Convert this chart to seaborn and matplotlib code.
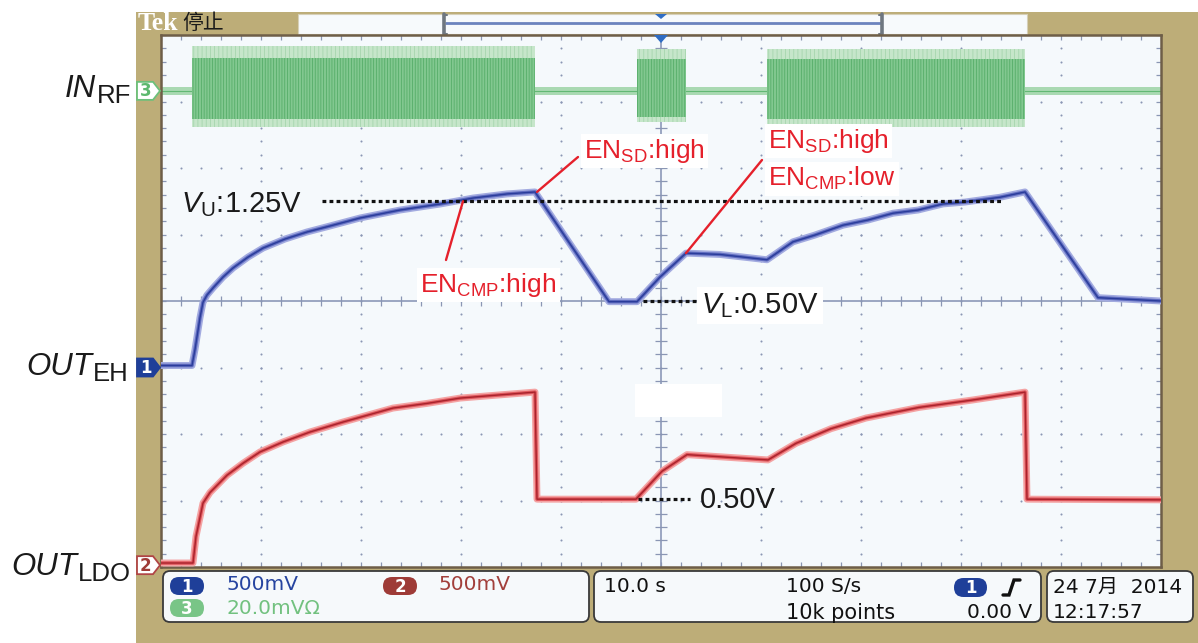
import numpy as np
import pandas as pd
import matplotlib
matplotlib.use("Agg")
import matplotlib.pyplot as plt
import seaborn as sns
from matplotlib.patches import Rectangle, FancyBboxPatch, Polygon

sns.set_theme(style="white")
plt.rcParams['font.family'] = ['Liberation Sans', 'DejaVu Sans', 'Noto Sans CJK SC']
plt.rcParams['mathtext.fontset'] = 'custom'
plt.rcParams['mathtext.rm'] = 'Liberation Sans'
plt.rcParams['mathtext.it'] = 'Liberation Sans:italic'
plt.rcParams['mathtext.bf'] = 'Liberation Sans:bold'
plt.rcParams['hatch.linewidth'] = 0.6

# ---------------- acquisition settings ----------------
CH1_V_PER_DIV = 0.5      # OUT_EH
CH2_V_PER_DIV = 0.5      # OUT_LDO
CH3_MV_PER_DIV = 20.0    # IN_RF
CH1_OFFSET_DIV = 3.0
CH2_OFFSET_DIV = 0.02
CH3_OFFSET_DIV = 7.16

# ---------------- OUT_EH (channel 1) ----------------
eh_time = [0.0, 3.1, 3.4, 3.9, 4.2, 4.6, 5.2, 6.2, 7.2, 8.7, 10.2, 12.4, 14.6, 16.9,
           19.9, 23.9, 27.9, 31.2, 34.6, 37.4, 44.8, 47.6, 49.9, 52.5, 55.9, 60.6,
           63.2, 65.4, 68.2, 70.7, 73.2, 75.7, 78.2, 80.4, 83.9, 86.4, 93.7, 100.0]
eh_volt = [0.015, 0.015, 0.135, 0.375, 0.49, 0.545, 0.598, 0.68, 0.748, 0.83, 0.898,
           0.966, 1.019, 1.064, 1.124, 1.184, 1.229, 1.274, 1.305, 1.32, 0.495, 0.495,
           0.68, 0.86, 0.85, 0.81, 0.945, 0.996, 1.07, 1.109, 1.16, 1.184, 1.23, 1.244,
           1.28, 1.32, 0.525, 0.50]
PEAK_IDX = eh_time.index(37.4)
KNEE_IDX = eh_time.index(52.5)

# ---------------- OUT_LDO (channel 2) ----------------
ldo_time = [0.0, 3.2, 3.5, 4.2, 4.9, 6.6, 8.2, 9.9, 12.2, 14.9, 18.2, 23.2, 26.6,
            29.9, 33.2, 37.4, 37.6, 47.5, 50.1, 52.6, 60.7, 63.5, 67.0, 70.5, 75.8,
            81.1, 86.4, 86.6, 100.0]
ldo_volt = [0.02, 0.02, 0.22, 0.47, 0.55, 0.68, 0.77, 0.855, 0.93, 1.005, 1.08,
            1.185, 1.22, 1.26, 1.28, 1.305, 0.50, 0.50, 0.71, 0.835, 0.795, 0.92,
            1.03, 1.11, 1.19, 1.245, 1.305, 0.50, 0.495]

# ---------------- IN_RF (channel 3) bursts ----------------
rf_start = [3.1, 47.6, 60.6]
rf_end = [37.4, 52.5, 86.4]
rf_upper_mv = [13.5, 12.5, 12.5]
rf_lower_mv = [-11.0, -9.5, -11.0]
rf_core_upper_mv = [10.0, 9.5, 9.5]
rf_core_lower_mv = [-8.5, -8.0, -8.5]
rf_idle_mv = 1.2

# thresholds
V_UPPER = 1.25
V_LOWER = 0.50
V_LDO_LOW = 0.50
T_CMP_HIGH = 30.2

# ---------------- figure / layers ----------------
W, H = 1198, 643
fig = plt.figure(figsize=(W / 100, H / 100), dpi=100)

GL, GR, GT, GB = 161, 1161, 35, 567
bg = fig.add_axes([0, 0, 1, 1])
bg.set_xlim(0, W); bg.set_ylim(H, 0); bg.axis('off'); bg.set_zorder(0)
ax = fig.add_axes([GL / W, (H - GB) / H, (GR - GL) / W, (GB - GT) / H])
ax.set_zorder(1)
fg = fig.add_axes([0, 0, 1, 1])
fg.set_xlim(0, W); fg.set_ylim(H, 0); fg.axis('off'); fg.set_zorder(2)
fg.patch.set_visible(False)
renderer = fig.canvas.get_renderer()

TAN = '#BDAD78'
SCREEN = '#F5F9FC'

def to_px(t, ydiv):
    return GL + t * (GR - GL) / 100.0, GB - ydiv * (GB - GT) / 8.0

# background frame
bg.add_patch(Rectangle((0, 0), W, H, fc='white', ec='none'))
bg.add_patch(Rectangle((136, 12), W - 136, H - 12, fc=TAN, ec='none'))
# top position bar
bg.add_patch(Rectangle((298, 14), 729, 20, fc='#F7FAFC', ec='#D6D0B8', lw=0.8))
bg.plot([445, 881], [23, 23], color='#6C84BE', lw=2.0, solid_capstyle='butt')
for bx, d in [(444, 1), (882, -1)]:
    bg.plot([bx, bx], [14, 34], color='#6F7780', lw=2.6)
    bg.plot([bx, bx + 3 * d], [14.5, 14.5], color='#6F7780', lw=1.5)
    bg.plot([bx, bx + 3 * d], [33.5, 33.5], color='#6F7780', lw=1.5)
bg.add_patch(Polygon([(655, 14), (667, 14), (661, 19)], closed=True, fc='#2F6DC4', ec='none'))
bg.text(138, 23, 'Tek', family='Liberation Serif', weight='bold', fontsize=18.5,
        color='white', ha='left', va='center')
bg.text(182, 23, '停止', family=['Noto Sans CJK SC', 'DejaVu Sans'], fontsize=15,
        color='#1A1A1A', ha='left', va='center')

# status boxes
for x0, w0 in [(163, 426), (594, 447), (1047, 146)]:
    bg.add_patch(FancyBboxPatch((x0, 571), w0, 51, boxstyle='round,pad=0,rounding_size=7',
                                fc='#F6F9FB', ec='#3A3A3A', lw=1.3))

def pill(x, y, w, h, color, label):
    bg.add_patch(FancyBboxPatch((x, y), w, h, boxstyle=f'round,pad=0,rounding_size={h/2}',
                                fc=color, ec='none'))
    bg.text(x + w / 2, y + h / 2 + 0.5, label, family='DejaVu Sans', weight='bold',
            fontsize=12, color='white', ha='center', va='center')

pill(170, 577, 34, 18, '#1F3F99', '1')
pill(383, 577, 34, 18, '#9E3B37', '2')
pill(170, 599, 34, 18, '#79C587', '3')
pill(954, 578, 33, 19, '#1F3F99', '1')

st = dict(family='DejaVu Sans', fontsize=14.5, va='center', ha='left')
bg.text(227, 585, '500mV', color='#2644A0', **st)
bg.text(438, 585, '500mV', color='#A23F3B', **st)
bg.text(227, 608, '20.0mVΩ', color='#72C17F', **st)
bg.text(604, 587, '10.0 s', color='#111111', **st)
bg.text(786, 587, '100 S/s', color='#111111', **st)
bg.text(786, 613, '10k points', color='#111111', family='DejaVu Sans', fontsize=15,
        va='center', ha='left')
bg.text(1032, 613, '0.00 V', color='#111111', family='DejaVu Sans', fontsize=14.5,
        va='center', ha='right')
bg.plot([1003, 1009, 1014, 1020], [595, 595, 580, 580], color='#111111', lw=2.4,
        solid_joinstyle='miter')
bg.text(1053, 587, '24 7月  2014', color='#111111', family=['DejaVu Sans', 'Noto Sans CJK SC'],
        fontsize=14.5, va='center', ha='left')
bg.text(1053, 613, '12:17:57', color='#111111', **st)

# ---------------- graticule ----------------
ax.set_facecolor(SCREEN)
ax.set_xlim(0, 100); ax.set_ylim(0, 8)
ax.set_xticks([]); ax.set_yticks([])
for s in ax.spines.values():
    s.set_color('#6E5E48'); s.set_linewidth(1.8)
GC = '#8A96B4'
minor_y = np.arange(41) * 0.2
minor_x = np.arange(51) * 2.0
for i in range(1, 10):
    if i != 5:
        ax.scatter(np.full(minor_y.size, i * 10.0), minor_y, s=2.2, color=GC, lw=0, zorder=1)
for j in range(1, 8):
    if j != 4:
        ax.scatter(minor_x, np.full(minor_x.size, float(j)), s=2.2, color=GC, lw=0, zorder=1)
ax.axvline(50, color='#8C98B8', lw=1.2, zorder=1)
ax.axhline(4, color='#8C98B8', lw=1.2, zorder=1)
ax.vlines(minor_x, 4 - 0.07, 4 + 0.07, color=GC, lw=0.9, zorder=1)
ax.hlines(minor_y, 50 - 0.6, 50 + 0.6, color=GC, lw=0.9, zorder=1)
ax.vlines(minor_x, 0, 0.08, color=GC, lw=0.9, zorder=1)
ax.vlines(minor_x, 8 - 0.08, 8, color=GC, lw=0.9, zorder=1)
ax.hlines(minor_y, 0, 0.5, color=GC, lw=0.9, zorder=1)
ax.hlines(minor_y, 100 - 0.5, 100, color=GC, lw=0.9, zorder=1)

# ---------------- channel 3: IN_RF ----------------
base3 = CH3_OFFSET_DIV
ax.fill_between([0, 100], base3 - rf_idle_mv / CH3_MV_PER_DIV, base3 + rf_idle_mv / CH3_MV_PER_DIV,
                color='#A9D9B2', lw=0, zorder=2)
ax.plot([0, 100], [base3, base3], color='#62B874', lw=0.8, zorder=2)
for s0, e0, u, l, cu, cl in zip(rf_start, rf_end, rf_upper_mv, rf_lower_mv,
                                rf_core_upper_mv, rf_core_lower_mv):
    ax.fill_between([s0, e0], base3 + l / CH3_MV_PER_DIV, base3 + u / CH3_MV_PER_DIV,
                    facecolor='#C6E6CA', edgecolor='#A6D6AE', hatch='||||', lw=0, zorder=2)
    ax.fill_between([s0, e0], base3 + cl / CH3_MV_PER_DIV, base3 + cu / CH3_MV_PER_DIV,
                    facecolor='#82C890', edgecolor='#56AD69', hatch='||||||', lw=0, zorder=2)

# ---------------- channel 1 and 2 traces ----------------
eh = pd.DataFrame({'t': eh_time, 'div': CH1_OFFSET_DIV + np.array(eh_volt) / CH1_V_PER_DIV})
ldo = pd.DataFrame({'t': ldo_time, 'div': CH2_OFFSET_DIV + np.array(ldo_volt) / CH2_V_PER_DIV})

sns.lineplot(data=eh, x='t', y='div', ax=ax, color='#A3ABE0', lw=5.0, sort=False,
             estimator=None, zorder=3)
sns.lineplot(data=eh, x='t', y='div', ax=ax, color='#5F6CC0', lw=2.6, sort=False,
             estimator=None, zorder=3)
sns.lineplot(data=eh, x='t', y='div', ax=ax, color='#2A3C9A', lw=1.0, sort=False,
             estimator=None, zorder=4)
sns.lineplot(data=ldo, x='t', y='div', ax=ax, color='#F4A4A4', lw=5.0, sort=False,
             estimator=None, zorder=3)
sns.lineplot(data=ldo, x='t', y='div', ax=ax, color='#E0585E', lw=2.6, sort=False,
             estimator=None, zorder=3)
sns.lineplot(data=ldo, x='t', y='div', ax=ax, color='#A8232C', lw=1.0, sort=False,
             estimator=None, zorder=4)
ax.set_xlabel(''); ax.set_ylabel('')
ax.set_xlim(0, 100); ax.set_ylim(0, 8)

# threshold guides
dots = dict(color='#111111', lw=2.3, ls=(0, (1.2, 1.0)), dash_capstyle='butt', zorder=5)
yU = CH1_OFFSET_DIV + V_UPPER / CH1_V_PER_DIV
yL = CH1_OFFSET_DIV + V_LOWER / CH1_V_PER_DIV
yLDO = CH2_OFFSET_DIV + V_LDO_LOW / CH2_V_PER_DIV
ax.plot([16.1, 84.2], [yU, yU], **dots)
ax.plot([48.2, 53.6], [yL, yL], **dots)
ax.plot([47.7, 52.9], [yLDO, yLDO], **dots)

# ---------------- overlays: markers, labels, annotations ----------------
fg.add_patch(Polygon([(654, 35), (668, 35), (661, 43)], closed=True, fc='#2F6DC4', ec='none'))
fg.add_patch(Rectangle((635, 384), 87, 33, fc='white', ec='none'))

def marker(yc, fc, ec, tc, label):
    pts = [(137, yc - 9), (153, yc - 9), (160, yc), (153, yc + 9), (137, yc + 9)]
    fg.add_patch(Polygon(pts, closed=True, fc=fc, ec=ec, lw=1.3))
    fg.text(145.5, yc + 0.5, label, family='DejaVu Sans', weight='bold', fontsize=12,
            color=tc, ha='center', va='center')

marker(to_px(0, CH3_OFFSET_DIV)[1], 'white', '#6CC07A', '#5DB86E', '3')
marker(to_px(0, CH1_OFFSET_DIV)[1], '#1F3F99', '#1F3F99', 'white', '1')
marker(to_px(0, CH2_OFFSET_DIV)[1] - 0.5, 'white', '#B04545', '#9E3B37', '2')

def signal_label(x_right, y_base, main, sub, fs_main=22.5, fs_sub=18.5, dy=6):
    t_sub = fg.text(x_right, y_base + dy, sub, fontsize=fs_sub, color='#1A1A1A',
                    ha='right', va='baseline')
    w = t_sub.get_window_extent(renderer).width
    fg.text(x_right - w - 1, y_base, main, fontsize=fs_main, style='italic',
            color='#1A1A1A', ha='right', va='baseline')

signal_label(131, 97, 'IN', 'RF')
signal_label(129, 375, 'OUT', 'EH')
signal_label(131, 575, 'OUT', 'LDO')

ann = dict(fontsize=21, color='#1A1A1A', ha='left', va='baseline')
fg.text(181, 212, r'$\mathit{V}_{\mathrm{U}}$:1.25V', **ann)
fg.text(701, 313, r'$\mathit{V}_{\mathrm{L}}$:0.50V',
        bbox=dict(fc='white', ec='none', pad=3), **ann)
fg.text(700, 508, '0.50V', **ann)

RED = '#E5202B'
red = dict(fontsize=19, color=RED, ha='left', va='baseline')
wb = dict(fc='white', ec='none', pad=2.5)
fg.text(584, 158, r'EN$_{\mathrm{SD}}$:high', bbox=wb, **red)
fg.text(420, 292, r'EN$_{\mathrm{CMP}}$:high', bbox=wb, **red)
fg.text(768, 148, r'EN$_{\mathrm{SD}}$:high', bbox=wb, **red)
fg.text(768, 186, r'EN$_{\mathrm{CMP}}$:low', bbox=wb, **red)

# leader lines from trace events to labels
p1 = to_px(eh_time[PEAK_IDX], CH1_OFFSET_DIV + eh_volt[PEAK_IDX] / CH1_V_PER_DIV)
fg.plot([p1[0] + 2, 578], [p1[1], 157], color=RED, lw=1.7)
p2 = to_px(T_CMP_HIGH, yU)
fg.plot([p2[0], 446], [p2[1], 260], color=RED, lw=1.7)
p3 = to_px(eh_time[KNEE_IDX], CH1_OFFSET_DIV + eh_volt[KNEE_IDX] / CH1_V_PER_DIV)
fg.plot([p3[0], 762], [p3[1], 160], color=RED, lw=1.7)

fig.savefig('out.png', dpi=100)
